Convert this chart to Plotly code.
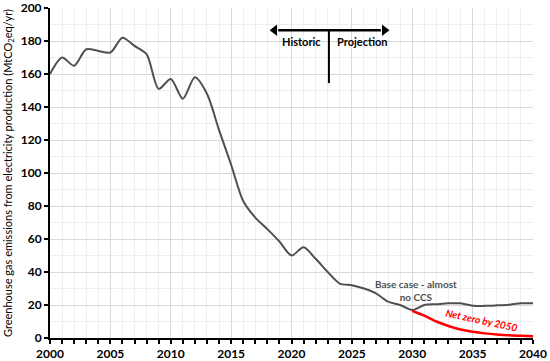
import plotly.graph_objects as go

years = list(range(2000, 2041))
base_case = [160, 170, 165, 175, 174, 173, 182, 177, 172, 151, 157, 145, 158, 148, 126, 105,
             83, 73, 66, 58.5, 50, 55, 48, 40, 33, 32, 30, 27, 22, 20, 17, 20, 20.5, 21, 21,
             19.5, 19.5, 19.8, 20.2, 21, 21]
nz_years = list(range(2030, 2041))
net_zero = [16.5, 13.5, 10, 7.3, 5.2, 3.8, 2.8, 2.1, 1.6, 1.3, 1.0]

x_ticks = [2000, 2005, 2010, 2015, 2020, 2025, 2030, 2035, 2040]
y_ticks = [0, 20, 40, 60, 80, 100, 120, 140, 160, 180, 200]

FONT = "Lato"

fig = go.Figure()
fig.add_trace(go.Scatter(x=years, y=base_case, mode="lines",
                         line=dict(color="#505050", width=2, shape="spline", smoothing=0.8),
                         showlegend=False, hoverinfo="skip"))
fig.add_trace(go.Scatter(x=nz_years, y=net_zero, mode="lines",
                         line=dict(color="#ff0000", width=2.5, shape="spline", smoothing=0.8),
                         showlegend=False, hoverinfo="skip"))

# Historic / Projection double arrow
fig.add_trace(go.Scatter(x=[2018.9, 2027.4], y=[186.5, 186.5], mode="lines",
                         line=dict(color="black", width=2.5), showlegend=False, hoverinfo="skip"))
fig.add_trace(go.Scatter(x=[2018.6, 2027.7], y=[186.5, 186.5], mode="markers",
                         marker=dict(symbol=["triangle-left", "triangle-right"], size=10, color="black"),
                         showlegend=False, hoverinfo="skip"))
fig.add_shape(type="line", x0=2023.1, x1=2023.1, y0=186.5, y1=154.5, xref="x", yref="y",
              line=dict(color="black", width=2))
fig.add_annotation(x=2022.6, y=180, text="<b>Historic</b>", showarrow=False, xanchor="right",
                   font=dict(family=FONT, size=11, color="black"))
fig.add_annotation(x=2023.6, y=180, text="<b>Projection</b>", showarrow=False, xanchor="left",
                   font=dict(family=FONT, size=11, color="black"))

fig.add_annotation(x=2030.3, y=28.5, text="<b>Base case - almost<br>no CCS</b>", showarrow=False,
                   font=dict(family=FONT, size=10, color="#505050"), align="center")
fig.add_annotation(x=2035.7, y=11, text="<b><i>Net zero by 2050</i></b>", showarrow=False,
                   textangle=12, font=dict(family=FONT, size=10, color="#ff0000"))

fig.update_layout(
    width=550, height=361,
    margin=dict(l=50, r=17, t=8, b=23, autoexpand=False),
    paper_bgcolor="white", plot_bgcolor="white",
    font=dict(family=FONT, color="black"),
    xaxis=dict(range=[2000, 2040], tickvals=x_ticks, ticktext=[str(v) for v in x_ticks],
               tickfont=dict(family=FONT, size=12, color="black", weight="bold"),
               automargin=False,
               showline=True, linecolor="black", linewidth=2,
               ticks="outside", ticklen=4, tickwidth=1.5, tickcolor="black",
               showgrid=True, gridcolor="#d9d9d9", gridwidth=1, zeroline=False,
               minor=dict(dtick=1, tick0=2000, ticks="outside", ticklen=4, tickcolor="black",
                          showgrid=True, gridcolor="#eeeeee", gridwidth=1)),
    yaxis=dict(range=[0, 200], tickvals=y_ticks,
               tickfont=dict(family=FONT, size=12, color="black", weight="bold"),
               automargin=False,
               showline=True, linecolor="black", linewidth=2,
               ticks="outside", ticklen=4, tickwidth=1.5, tickcolor="black",
               showgrid=True, gridcolor="#d9d9d9", gridwidth=1, zeroline=False,
               minor=dict(dtick=10, tick0=0, showgrid=True, gridcolor="#eeeeee", gridwidth=1),
               title=dict(text="Greenhouse gas emissions from electricity production (MtCO<sub>2</sub>eq/yr)",
                          font=dict(family=FONT, size=11, color="black"), standoff=6)),
)

fig.write_html("out.html", config={"displayModeBar": False},
               post_script="document.body.style.margin='0';")
